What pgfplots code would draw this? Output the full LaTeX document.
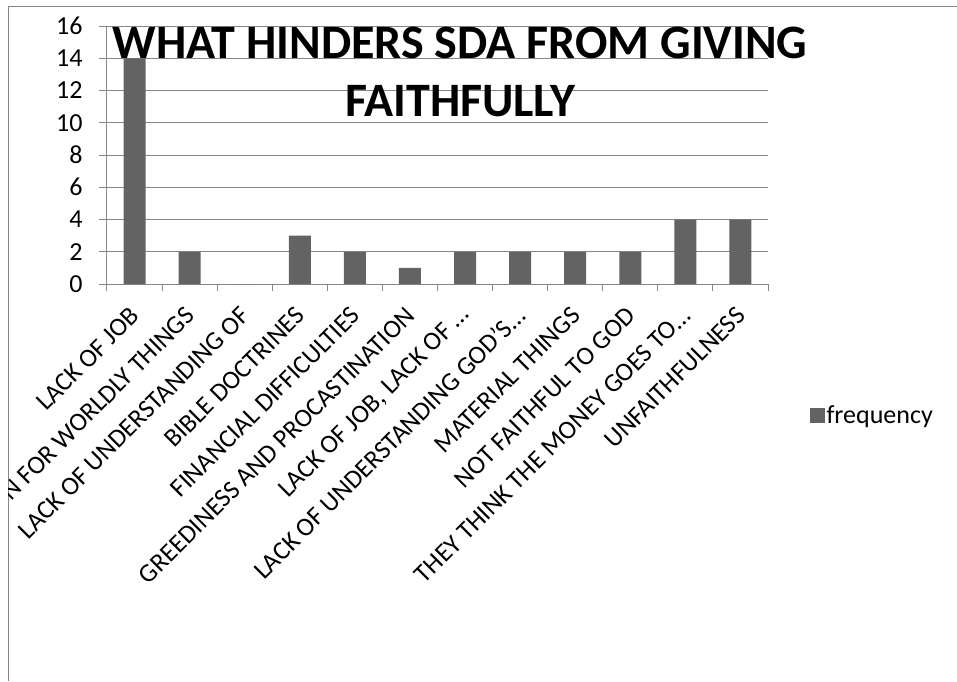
\documentclass[border=0pt]{standalone}
\usepackage{pgfplots}
\pgfplotsset{compat=1.18}
\usepackage{fontspec}
\setmainfont{Carlito}
\definecolor{barfill}{RGB}{99,99,99}
\definecolor{axisgray}{RGB}{134,134,134}

\begin{document}
\begin{tikzpicture}
\useasboundingbox (0pt,0pt) rectangle (957pt,681pt);
\draw[axisgray, line width=1pt] (8pt,0pt) -- (8pt,674pt) -- (957pt,674pt);
\clip (8.5pt,0pt) rectangle (957pt,673.5pt);
\begin{axis}[
    at={(107pt,397pt)}, anchor=south west,
    scale only axis, width=661pt, height=258pt,
    xmin=0.5, xmax=12.5, ymin=0, ymax=16,
    ytick={0,2,...,16},
    xtick={1,...,12},
    minor xtick={0.5,1.5,...,12.5},
    xticklabels={LACK OF JOB, ATTRACTION FOR WORLDLY THINGS, LACK OF UNDERSTANDING OF,
      BIBLE DOCTRINES, FINANCIAL DIFFICULTIES, GREEDINESS AND PROCASTINATION,
      {LACK OF JOB, LACK OF …}, LACK OF UNDERSTANDING GOD'S…, MATERIAL THINGS,
      NOT FAITHFUL TO GOD, THEY THINK THE MONEY GOES TO…, UNFAITHFULNESS},
    axis x line*=bottom, axis y line*=left,
    axis line style={axisgray, line width=1pt, -},
    ymajorgrids, major grid style={axisgray, line width=1pt},
    tick align=outside,
    major tick length=8pt, minor tick length=7pt,
    major x tick style={draw=none},
    minor x tick style={axisgray, line width=1pt},
    major y tick style={axisgray, line width=1pt},
    /pgf/number format/assume math mode=true,
    yticklabel style={xshift=-13pt, font=\fontsize{26}{28}\selectfont},
    xticklabel style={xshift=3pt, yshift=-17pt, rotate=45, anchor=east,
      font=\fontsize{26}{28}\selectfont},
    title={WHAT HINDERS SDA FROM GIVING\\FAITHFULLY},
    title style={at={(0.534,0.8)}, anchor=center, align=center,
      font=\bfseries\fontsize{48}{58}\selectfont},
    ybar, bar width=22pt,
    legend style={at={(1.058,-0.51)}, anchor=west, draw=none, fill=none,
      font=\fontsize{26}{28}\selectfont},
    legend image code/.code={\fill[barfill] (0pt,-7.5pt) rectangle (15pt,7.5pt);},
]
\addplot[fill=barfill, draw=none] coordinates {
  (1,14) (2,2) (3,0) (4,3) (5,2) (6,1) (7,2) (8,2) (9,2) (10,2) (11,4) (12,4)
};
\addlegendentry{frequency}
\end{axis}
\end{tikzpicture}
\end{document}
